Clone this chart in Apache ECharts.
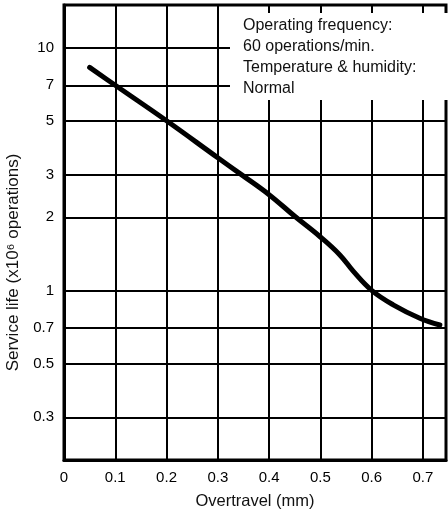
<!DOCTYPE html>
<html>
<head>
<meta charset="utf-8">
<script src="https://cdn.jsdelivr.net/npm/echarts@6/dist/echarts.min.js"></script>
<style>html,body{margin:0;padding:0;background:#fff}#c{width:448px;height:510px}</style>
</head>
<body>
<div id="c"></div>
<script>
const overtravel = [0.05, 0.1, 0.2, 0.3, 0.346, 0.4, 0.45, 0.5, 0.538, 0.564, 0.6, 0.642, 0.694, 0.733];
const serviceLife = [8.3, 7.0, 5.0, 3.52, 3.0, 2.48, 2.02, 1.66, 1.40, 1.20, 1.0, 0.872, 0.768, 0.72];
const xTicks = [0, 0.1, 0.2, 0.3, 0.4, 0.5, 0.6, 0.7];
const yTicks = [0.3, 0.5, 0.7, 1, 2, 3, 5, 7, 10];
const noteLines = ['Operating frequency:', '60 operations/min.', 'Temperature & humidity:', 'Normal'];

const font = 'Liberation Sans, Arial, Helvetica, sans-serif';
const chart = echarts.init(document.getElementById('c'));
chart.setOption({
  animation: false,
  backgroundColor: '#fff',
  textStyle: { fontFamily: font },
  title: {
    text: noteLines.join('\n'),
    left: 230, top: 13,
    padding: [2, 46, 1, 13],
    backgroundColor: '#fff',
    textStyle: { fontFamily: font, fontSize: 16, fontWeight: 'normal', color: '#111', lineHeight: 21 }
  },
  grid: { left: 64, right: 2, top: 5, bottom: 50, show: true, borderColor: '#000', borderWidth: 3, containLabel: false, outerBoundsMode: 'none' },
  xAxis: {
    type: 'value', min: 0, max: 0.745,
    name: 'Overtravel (mm)', nameLocation: 'middle', nameGap: 33,
    nameTextStyle: { fontFamily: font, fontSize: 16.5, color: '#111' },
    axisLine: { show: true, lineStyle: { color: '#000', width: 3 } },
    axisTick: { show: false, customValues: xTicks },
    axisLabel: { customValues: xTicks, fontSize: 15, color: '#000', margin: 10, fontFamily: font },
    splitLine: { show: true, lineStyle: { color: '#000', width: 2 } }
  },
  yAxis: {
    type: 'log', logBase: 10, min: 0.2, max: 15,
    name: 'Service life (x10\u2076 operations)', nameLocation: 'middle', nameGap: 42, nameRotate: 90,
    nameTextStyle: { fontFamily: font, fontSize: 17, color: '#111', padding: [0, 60, 0, 0] },
    axisLine: { show: true, lineStyle: { color: '#000', width: 3 } },
    axisTick: { show: false, customValues: yTicks },
    axisLabel: { customValues: yTicks, fontSize: 15, color: '#000', margin: 10, fontFamily: font },
    splitLine: { show: true, lineStyle: { color: '#000', width: 2 } }
  },
  series: [{
    type: 'line',
    data: overtravel.map((x, i) => [x, serviceLife[i]]),
    showSymbol: false,
    smooth: 0.4,
    lineStyle: { color: '#000', width: 5, cap: 'round', join: 'round' },
    z: 3
  }]
});
</script>
</body>
</html>
